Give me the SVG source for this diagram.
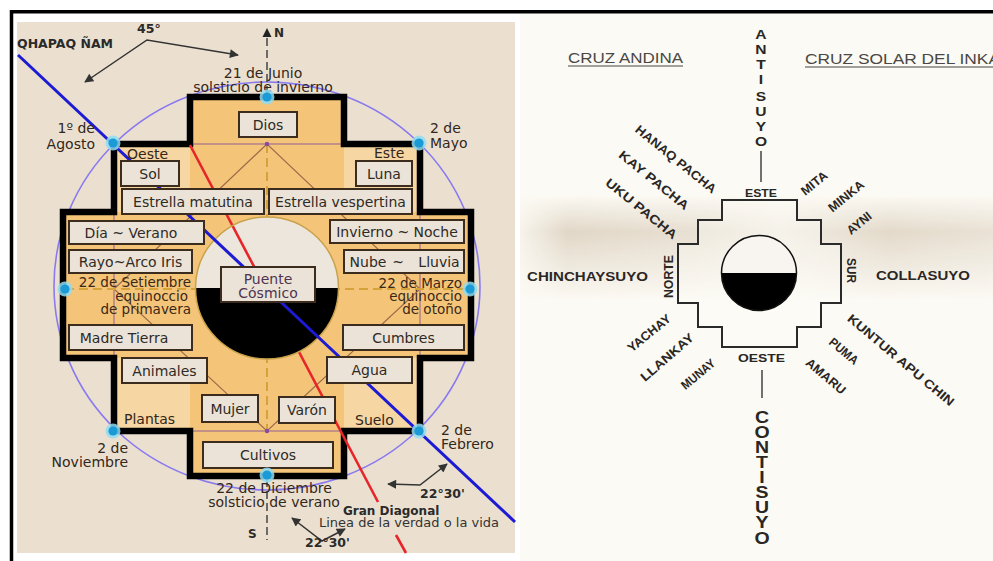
<svg xmlns="http://www.w3.org/2000/svg" width="993" height="561" viewBox="0 0 993 561">
<defs>
<style>
.box rect{fill:#ebe3d7;stroke:#3b2c1e;stroke-width:2}
.bt{font-family:"DejaVu Sans",Verdana,sans-serif;font-size:14px;fill:#2e2a26;text-anchor:middle}
.lbl{font-family:"DejaVu Sans",Verdana,sans-serif;font-size:14px;fill:#33261a}
.eq{font-family:"DejaVu Sans",Verdana,sans-serif;font-size:13.5px;fill:#3a2816;text-anchor:end}
.bd{font-family:"DejaVu Sans",Verdana,sans-serif;font-weight:bold;fill:#2a2a2a}
.r{font-family:"Liberation Sans",Arial,sans-serif;font-weight:bold;fill:#2a2623}
.rt{font-family:"Liberation Sans",Arial,sans-serif;font-weight:bold;fill:#2a2623;font-size:12.5px;text-anchor:middle}
.ttl{font-family:"Liberation Sans",Arial,sans-serif;fill:#4a4744;font-size:15.5px}
.ar{fill:none;stroke:#333;stroke-width:1.5;marker-start:url(#ah);marker-end:url(#ah)}
</style>
<marker id="ah" viewBox="0 0 10 10" refX="9" refY="5" markerWidth="7" markerHeight="6" orient="auto-start-reverse"><path d="M0,0 L10,5 L0,10 z" fill="#333"/></marker>
<g id="dot"><circle r="7.5" fill="#8fdcf3" opacity="0.85"/><circle r="4.6" fill="#1b9bd6"/></g>
<linearGradient id="fadeV" x1="0" y1="0" x2="0" y2="1">
<stop offset="0" stop-color="#c4b196" stop-opacity="0"/>
<stop offset="0.35" stop-color="#c4b196" stop-opacity="0.6"/>
<stop offset="0.7" stop-color="#c4b196" stop-opacity="0.28"/>
<stop offset="1" stop-color="#c4b196" stop-opacity="0"/>
</linearGradient>
<linearGradient id="fadeH" x1="0" y1="0" x2="1" y2="0">
<stop offset="0" stop-color="#fff" stop-opacity="0.15"/>
<stop offset="0.1" stop-color="#fff" stop-opacity="0.8"/>
<stop offset="0.38" stop-color="#fff" stop-opacity="0.6"/>
<stop offset="0.55" stop-color="#fff" stop-opacity="0.3"/>
<stop offset="0.78" stop-color="#fff" stop-opacity="0.75"/>
<stop offset="1" stop-color="#fff" stop-opacity="0.55"/>
</linearGradient>
<mask id="bandMask"><rect x="520" y="190" width="473" height="120" fill="url(#fadeH)"/></mask>
</defs>

<!-- backgrounds -->
<rect width="993" height="561" fill="#ffffff"/>
<rect x="520" y="14" width="473" height="547" fill="#fcfaf4"/>
<rect x="520" y="195" width="473" height="105" fill="url(#fadeV)" mask="url(#bandMask)"/>
<rect x="17" y="22" width="498" height="531" fill="#ebe0d0"/>
<path d="M11.5,561 V11.8 H993" fill="none" stroke="#000" stroke-width="3.5"/>

<!-- LEFT PANEL -->
<ellipse cx="267" cy="286" rx="213" ry="204" fill="none" stroke="#8a7af0" stroke-width="1.6"/>

<g id="cross-left">
<path d="M190,97 H344 V144 H420 V212 H471 V358 H420 V431 H344 V476 H190 V431 H114 V358 H63 V212 H114 V144 H190 Z" fill="#f6d6a2"/>
<path d="M190,97 H344 V212 H471 V358 H344 V476 H190 V358 H63 V212 H190 Z" fill="#f4c579"/>
<rect x="114" y="144" width="306" height="287" fill="none" stroke="#a3708c" stroke-width="1.2"/>
<path d="M267,144 L114,289 L267,431 L420,289 Z" fill="none" stroke="#9c6b4a" stroke-width="1.2"/>
<path d="M267,144 V431 M65,289 H470" fill="none" stroke="#d6a23a" stroke-width="2" stroke-dasharray="9 5"/>
<circle cx="267" cy="144" r="2.2" fill="#8a4aa0"/>
<circle cx="267" cy="431" r="2.2" fill="#8a4aa0"/>
<path d="M190,97 H344 V144 H420 V212 H471 V358 H420 V431 H344 V476 H190 V431 H114 V358 H63 V212 H114 V144 H190 Z" fill="none" stroke="#000" stroke-width="6.5" stroke-linejoin="miter"/>
</g>

<g id="circle-left-top">
<path d="M195.5,288 A71.5,71 0 0 1 338.5,288 Z" fill="#ece6dd"/>
</g>

<g id="connectors">
<path d="M190,145 L378,502 M396,535 L406,553" fill="none" stroke="#e6262a" stroke-width="2.6"/>
<path d="M267,38 V94 M267,479 V540" fill="none" stroke="#444" stroke-width="1.5" stroke-dasharray="8 4"/>
<path d="M267,28 L262.5,37 L271.5,37 Z" fill="#222"/>
<path class="ar" d="M85,82 L147,40 L238,55"/>
<path class="ar" d="M292,518 L322,541 L345,529"/>
<path class="ar" d="M388,484 L420,485 L447,464"/>
</g>

<g id="circle-left-bottom">
<path d="M195.5,288 A71.5,71 0 0 0 338.5,288 Z" fill="#000"/>
<ellipse cx="267" cy="288" rx="71.5" ry="71" fill="none" stroke="#c9a24c" stroke-width="1.5"/>
</g>

<g id="qhapaq-line">
<path d="M18,55 L515,522" fill="none" stroke="#1c1ad2" stroke-width="3"/>
</g>

<g id="box-dios" class="box"><rect x="239" y="112" width="58" height="25"/><text class="bt" x="268" y="129.5">Dios</text></g>
<g id="box-sol" class="box"><rect x="121" y="161" width="58" height="25"/><text class="bt" x="150" y="178.5">Sol</text></g>
<g id="box-luna" class="box"><rect x="356" y="161" width="56" height="25"/><text class="bt" x="384" y="178.5">Luna</text></g>
<g id="box-estrella-matutina" class="box"><rect x="122" y="189" width="142" height="25"/><text class="bt" x="193" y="206.5">Estrella matutina</text></g>
<g id="box-estrella-vespertina" class="box"><rect x="269" y="189" width="143" height="25"/><text class="bt" x="340.5" y="206.5">Estrella vespertina</text></g>
<g id="box-dia-verano" class="box"><rect x="69" y="221" width="135" height="23"/><text class="bt" x="131" y="237.5">Día ~ Verano</text></g>
<g id="box-rayo" class="box"><rect x="69" y="250" width="123" height="23"/><text class="bt" x="130.5" y="266.5">Rayo~Arco Iris</text></g>
<g id="box-invierno-noche" class="box"><rect x="330" y="220" width="134" height="23"/><text class="bt" x="397" y="236.5">Invierno ~ Noche</text></g>
<g id="box-nube-lluvia" class="box"><rect x="344" y="250" width="120" height="23"/><text class="bt" y="266.5"><tspan x="368">Nube</tspan><tspan x="398">~</tspan><tspan x="439">Lluvia</tspan></text></g>
<g id="box-puente" class="box"><rect x="221" y="267" width="94" height="35"/><text class="bt" x="268" y="284" style="fill:#4e3450">Puente</text><text class="bt" x="268" y="298" style="fill:#4e3450">Cósmico</text></g>
<g id="box-madre-tierra" class="box"><rect x="69" y="325" width="123" height="25"/><text class="bt" x="124" y="342.5">Madre Tierra</text></g>
<g id="box-cumbres" class="box"><rect x="343" y="325" width="121" height="25"/><text class="bt" x="403.5" y="342.5">Cumbres</text></g>
<g id="box-animales" class="box"><rect x="122" y="358" width="85" height="25"/><text class="bt" x="164.5" y="375.5">Animales</text></g>
<g id="box-agua" class="box"><rect x="327" y="357" width="85" height="26"/><text class="bt" x="369.5" y="375">Agua</text></g>
<g id="box-mujer" class="box"><rect x="202" y="395" width="56" height="27"/><text class="bt" x="230" y="413.5">Mujer</text></g>
<g id="box-varon" class="box"><rect x="279" y="397" width="56" height="26"/><text class="bt" x="307" y="415">Varón</text></g>
<g id="box-cultivos" class="box"><rect x="203" y="442" width="130" height="26"/><text class="bt" x="268" y="460">Cultivos</text></g>

<g id="lbl-oeste"><text class="lbl" x="127" y="159">Oeste</text></g>
<g id="lbl-este"><text class="lbl" x="374" y="158">Este</text></g>
<g id="lbl-plantas"><text class="lbl" x="124" y="424">Plantas</text></g>
<g id="lbl-suelo"><text class="lbl" x="355" y="425">Suelo</text></g>
<g id="lbl-setiembre"><text class="eq" x="191" y="287">22 de Setiembre</text><text class="eq" x="188" y="301">equinoccio</text><text class="eq" x="191" y="314">de primavera</text></g>
<g id="lbl-marzo"><text class="eq" x="462" y="288">22 de Marzo</text><text class="eq" x="462" y="301">equinoccio</text><text class="eq" x="462" y="314">de otoño</text></g>
<g id="lbl-junio"><text class="lbl" x="263" y="78" text-anchor="middle">21 de Junio</text><text class="lbl" x="263" y="92" text-anchor="middle">solsticio de invierno</text></g>
<g id="lbl-diciembre"><text class="lbl" x="274" y="493" text-anchor="middle">22 de Diciembre</text><text class="lbl" x="274" y="507" text-anchor="middle">solsticio de verano</text></g>
<g id="lbl-agosto"><text class="lbl" x="95" y="133" text-anchor="end">1º de</text><text class="lbl" x="95" y="149" text-anchor="end">Agosto</text></g>
<g id="lbl-mayo"><text class="lbl" x="430" y="133">2 de</text><text class="lbl" x="430" y="148">Mayo</text></g>
<g id="lbl-noviembre"><text class="lbl" x="128" y="453" text-anchor="end">2 de</text><text class="lbl" x="128" y="467" text-anchor="end">Noviembre</text></g>
<g id="lbl-febrero"><text class="lbl" x="441" y="435">2 de</text><text class="lbl" x="441" y="449">Febrero</text></g>
<g id="lbl-qhapaq"><text class="bd" x="17" y="48" font-size="12.5">QHAPAQ ÑAM</text></g>
<g id="lbl-45"><text class="bd" x="137" y="33" font-size="12.5">45°</text></g>
<g id="lbl-n"><text class="bd" x="274" y="37" font-size="12">N</text></g>
<g id="lbl-s"><text class="bd" x="248" y="538" font-size="12">S</text></g>
<g id="lbl-2230a"><text class="bd" x="305" y="547" font-size="12.5">22°30'</text></g>
<g id="lbl-2230b"><text class="bd" x="420" y="498" font-size="12.5">22°30'</text></g>
<g id="lbl-gran-diagonal"><text class="bd" x="343" y="515" font-size="12">Gran Diagonal</text><text x="319" y="527" font-family="DejaVu Sans, Verdana, sans-serif" font-size="12.5" fill="#333" textLength="180" lengthAdjust="spacingAndGlyphs">Linea de la verdad o la vida</text></g>

<g id="dots">
<use href="#dot" x="267" y="97"/>
<use href="#dot" x="113" y="143"/>
<use href="#dot" x="419" y="143"/>
<use href="#dot" x="65" y="289"/>
<use href="#dot" x="470" y="289"/>
<use href="#dot" x="113" y="431"/>
<use href="#dot" x="419" y="431"/>
<use href="#dot" x="267" y="475"/>
</g>

<!-- RIGHT PANEL -->
<g id="title-cruz-andina"><text class="ttl" x="568" y="63" textLength="115" lengthAdjust="spacingAndGlyphs">CRUZ ANDINA</text><path d="M568,66 H683" stroke="#4a4744" stroke-width="1.2"/></g>
<g id="title-cruz-solar"><text class="ttl" x="805" y="64" textLength="195" lengthAdjust="spacingAndGlyphs">CRUZ SOLAR DEL INKA</text><path d="M805,67 H993" stroke="#4a4744" stroke-width="1.2"/></g>

<g id="cross-right">
<path d="M722,200 H797 V220 H821 V244 H841 V303 H821 V327 H797 V347 H722 V327 H698 V303 H678 V244 H698 V220 H722 Z" fill="#fdfbf6" fill-opacity="0.35" stroke="#2a2a2a" stroke-width="2"/>
<path d="M721.5,273 A37.5,37.5 0 0 1 796.5,273 Z" fill="#f8f5f0"/>
<path d="M721.5,273 A37.5,37.5 0 0 0 796.5,273 Z" fill="#000"/>
<circle cx="759" cy="273" r="37.5" fill="none" stroke="#111" stroke-width="1.5"/>
</g>

<g id="right-connectors">
<path d="M761,151 V182 M762,370 V398" stroke="#444" stroke-width="1.5"/>
</g>

<g id="antisuyo" transform="translate(761,0) scale(1.25,1)">
<text class="r" font-size="12.5" text-anchor="middle"><tspan x="0" y="39.5">A</tspan><tspan x="0" y="54.5">N</tspan><tspan x="0" y="69.5">T</tspan><tspan x="0" y="84.5">I</tspan><tspan x="0" y="101.5">S</tspan><tspan x="0" y="116.5">U</tspan><tspan x="0" y="131.5">Y</tspan><tspan x="0" y="146.5">O</tspan></text>
</g>
<g id="contisuyo" transform="translate(762,0) scale(1.22,1)">
<text class="r" font-size="16" text-anchor="middle"><tspan x="0" y="423">C</tspan><tspan x="0" y="438">O</tspan><tspan x="0" y="453">N</tspan><tspan x="0" y="468">T</tspan><tspan x="0" y="483">I</tspan><tspan x="0" y="498">S</tspan><tspan x="0" y="513">U</tspan><tspan x="0" y="528">Y</tspan><tspan x="0" y="544">O</tspan></text>
</g>

<g id="lbl-chinchaysuyo"><text class="r" x="527" y="281" font-size="13" textLength="121" lengthAdjust="spacingAndGlyphs">CHINCHAYSUYO</text></g>
<g id="lbl-collasuyo"><text class="r" x="876" y="280" font-size="13" textLength="94" lengthAdjust="spacingAndGlyphs">COLLASUYO</text></g>
<g id="lbl-este-r"><text class="r" x="761" y="197" font-size="11" text-anchor="middle" textLength="32" lengthAdjust="spacingAndGlyphs">ESTE</text></g>
<g id="lbl-oeste-r"><text class="r" x="761.5" y="362" font-size="11" text-anchor="middle" textLength="47" lengthAdjust="spacingAndGlyphs">OESTE</text></g>
<g id="lbl-norte"><text class="rt" font-size="11.5" transform="translate(668.5,276.5) rotate(-90)" y="4" textLength="43" lengthAdjust="spacingAndGlyphs">NORTE</text></g>
<g id="lbl-sur"><text class="rt" font-size="11.5" transform="translate(851,270.5) rotate(90)" y="4" textLength="25" lengthAdjust="spacingAndGlyphs">SUR</text></g>

<g id="lbl-hanaq"><text class="rt" transform="translate(676,159) rotate(39)" y="4.5" textLength="100" lengthAdjust="spacingAndGlyphs">HANAQ PACHA</text></g>
<g id="lbl-kay"><text class="rt" transform="translate(654,180) rotate(39)" y="4.5" textLength="86" lengthAdjust="spacingAndGlyphs">KAY PACHA</text></g>
<g id="lbl-uku"><text class="rt" transform="translate(641.5,208.5) rotate(39)" y="4.5" textLength="88" lengthAdjust="spacingAndGlyphs">UKU PACHA</text></g>
<g id="lbl-mita"><text class="rt" transform="translate(814,183) rotate(-39)" y="4.5" textLength="30" lengthAdjust="spacingAndGlyphs">MITA</text></g>
<g id="lbl-minka"><text class="rt" transform="translate(846,196) rotate(-39)" y="4.5" textLength="42" lengthAdjust="spacingAndGlyphs">MINKA</text></g>
<g id="lbl-ayni"><text class="rt" transform="translate(859,223) rotate(-39)" y="4.5" textLength="28" lengthAdjust="spacingAndGlyphs">AYNI</text></g>
<g id="lbl-yachay"><text class="rt" transform="translate(649,333) rotate(-39)" y="4.5" textLength="52" lengthAdjust="spacingAndGlyphs">YACHAY</text></g>
<g id="lbl-llankay"><text class="rt" transform="translate(667,357) rotate(-41)" y="4.5" textLength="66" lengthAdjust="spacingAndGlyphs">LLANKAY</text></g>
<g id="lbl-munay"><text class="rt" transform="translate(698,374) rotate(-40)" y="4.5" textLength="40" lengthAdjust="spacingAndGlyphs">MUNAY</text></g>
<g id="lbl-kuntur"><text class="rt" transform="translate(901,360) rotate(40)" y="4.5" textLength="135" lengthAdjust="spacingAndGlyphs">KUNTUR APU CHIN</text></g>
<g id="lbl-puma"><text class="rt" transform="translate(844,351) rotate(40)" y="4.5" textLength="34" lengthAdjust="spacingAndGlyphs">PUMA</text></g>
<g id="lbl-amaru"><text class="rt" transform="translate(826,376) rotate(40)" y="4.5" textLength="48" lengthAdjust="spacingAndGlyphs">AMARU</text></g>
</svg>
